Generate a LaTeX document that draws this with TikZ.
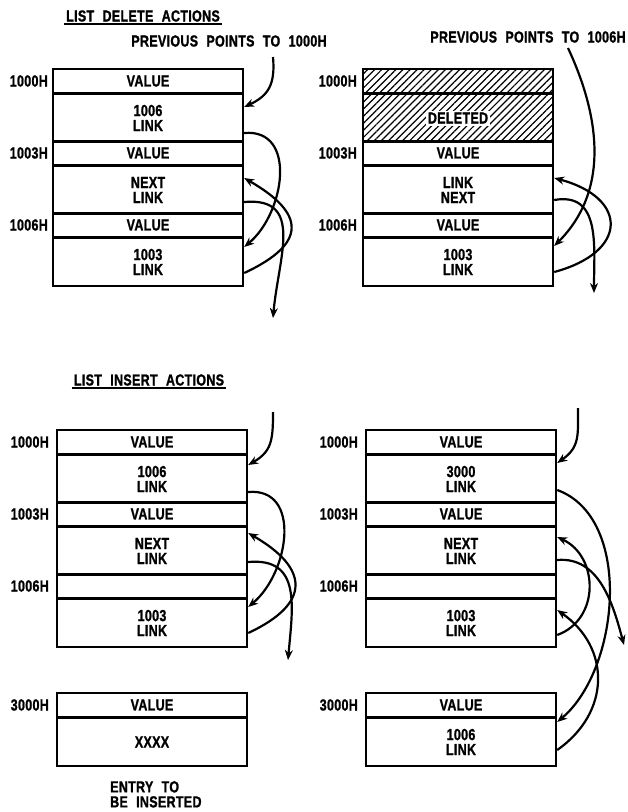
\documentclass[tikz,border=0pt]{standalone}
\usepackage{fontspec}
\setmainfont{Liberation Sans}[FakeStretch=0.78, WordSpace=2.2, LetterSpace=2, BoldFeatures={FakeBold=1.2}]
\usetikzlibrary{arrows.meta, patterns.meta}

\begin{document}
\begin{tikzpicture}[
  x=1pt, y=-1pt,
  font=\bfseries\fontsize{16}{15}\selectfont,
  >={Stealth[length=10pt,width=8pt]},
  cell/.style={draw=black, line width=2.4pt, minimum width=190pt, inner sep=0pt, align=center},
  valrow/.style={cell, minimum height=24pt},
  linkrow/.style={cell, minimum height=48pt},
  addr/.style={anchor=east, inner sep=0pt},
  hatch/.style={pattern={Lines[angle=45,distance=5pt,line width=1.2pt]}},
  heading/.style={inner sep=2pt},
  ptr/.style={->, line width=2.2pt}
]
\useasboundingbox (0,0) rectangle (628,812);

% delete, before
\node[heading] (ta) at (143,16) {LIST DELETE ACTIONS};
\draw[line width=1.6pt] (ta.south west) -- (ta.south east);
\node (pa) at (229,41) {PREVIOUS POINTS TO 1000H};
\coordinate (ap) at (273,57);
\coordinate (ao) at (273,318);

\node[valrow]  (av1) at (148,81)  {VALUE};
\node[linkrow] (al1) at (148,118) {1006\\LINK};
\node[valrow]  (av2) at (148,153) {VALUE};
\node[linkrow] (al2) at (148,190) {NEXT\\LINK};
\node[valrow]  (av3) at (148,225) {VALUE};
\node[linkrow] (al3) at (148,262) {1003\\LINK};
\node[addr] (aa1) at (48,81)  {1000H};
\node[addr] (aa2) at (48,153) {1003H};
\node[addr] (aa3) at (48,225) {1006H};

\draw[ptr] (ap) to[out=-85, in=25, looseness=1.2] ([yshift=11pt]al1.east);
\draw[ptr] ([yshift=-15pt]al1.east) to[out=5, in=40, looseness=1.2] ([yshift=15pt]al3.east);
\draw[ptr] ([yshift=-11pt]al3.east) to[out=25, in=-30, looseness=1.9] ([yshift=12pt]al2.east);
\draw[ptr] ([yshift=-12pt]al2.east) to[out=5, in=85, looseness=1.3] (ao);

% delete, after
\node (pb) at (528,37) {PREVIOUS POINTS TO 1006H};
\coordinate (bp) at (568,48);
\coordinate (bo) at (594,293);

\node[valrow, hatch]  (bv1) at (458,81)  {};
\node[linkrow, hatch] (bl1) at (458,118) {};
\node[fill=white, inner sep=2pt] (bdel) at (bl1) {DELETED};
\node[valrow]  (bv2) at (458,153) {VALUE};
\node[linkrow] (bl2) at (458,190) {LINK\\NEXT};
\node[valrow]  (bv3) at (458,225) {VALUE};
\node[linkrow] (bl3) at (458,262) {1003\\LINK};
\node[addr] (ba1) at (357,81)  {1000H};
\node[addr] (ba2) at (357,153) {1003H};
\node[addr] (ba3) at (357,225) {1006H};

\draw[ptr] (bp) to[out=-65, in=45] ([yshift=16pt]bl3.east);
\draw[ptr] ([yshift=-10pt]bl2.east) to[out=10, in=90, looseness=1.2] (bo);
\draw[ptr] ([yshift=-10pt]bl3.east) to[out=15, in=-15, looseness=2.1] ([yshift=12pt]bl2.east);

% insert, before
\node[heading] (tc) at (149,380) {LIST INSERT ACTIONS};
\draw[line width=1.6pt] (tc.south west) -- (tc.south east);
\coordinate (cp) at (273,412);
\coordinate (co) at (288,660);

\node[valrow]  (cv1) at (152,442) {VALUE};
\node[linkrow] (cl1) at (152,479) {1006\\LINK};
\node[valrow]  (cv2) at (152,514) {VALUE};
\node[linkrow] (cl2) at (152,551) {NEXT\\LINK};
\node[valrow]  (cv3) at (152,586) {};
\node[linkrow] (cl3) at (152,623) {1003\\LINK};
\node[addr] (ca1) at (49,442) {1000H};
\node[addr] (ca2) at (49,514) {1003H};
\node[addr] (ca3) at (49,586) {1006H};

\node[valrow]  (cnv) at (152,705) {VALUE};
\node[linkrow] (cnl) at (152,742) {XXXX};
\node[addr] (ca4) at (49,705) {3000H};
\node[anchor=north west, inner sep=0pt, align=left] (cnote) at (110,781) {ENTRY TO\\BE INSERTED};

\draw[ptr] (cp) to[out=-90, in=30, looseness=1.2] ([yshift=14pt]cl1.east);
\draw[ptr] ([yshift=-13pt]cl1.east) to[out=5, in=40, looseness=1.2] ([yshift=16pt]cl3.east);
\draw[ptr] ([yshift=-10pt]cl3.east) to[out=25, in=-30, looseness=1.8] ([yshift=18pt]cl2.east);
\draw[ptr] ([yshift=-11pt]cl2.east) to[out=5, in=85, looseness=1.3] (co);

% insert, after
\coordinate (dp) at (578,408);
\coordinate (dout) at (624,645);

\node[valrow]  (dv1) at (461,442) {VALUE};
\node[linkrow] (dl1) at (461,479) {3000\\LINK};
\node[valrow]  (dv2) at (461,514) {VALUE};
\node[linkrow] (dl2) at (461,551) {NEXT\\LINK};
\node[valrow]  (dv3) at (461,586) {};
\node[linkrow] (dl3) at (461,623) {1003\\LINK};
\node[addr] (da1) at (358,442) {1000H};
\node[addr] (da2) at (358,514) {1003H};
\node[addr] (da3) at (358,586) {1006H};

\node[valrow]  (dnv) at (461,705) {VALUE};
\node[linkrow] (dnl) at (461,742) {1006\\LINK};
\node[addr] (da4) at (358,705) {3000H};

\draw[ptr] (dp) to[out=-90, in=35, looseness=1.2] ([yshift=16pt]dl1.east);
\draw[ptr] ([yshift=-11pt]dl1.east) to[out=-20, in=40, looseness=0.9] ([yshift=20pt]dnl.east);
\draw[ptr] ([yshift=-8pt]dnl.east) to[out=35, in=-35, looseness=1.2] ([yshift=13pt]dl3.east);
\draw[ptr] ([yshift=-12pt]dl3.east) to[out=20, in=-25, looseness=1.2] ([yshift=14pt]dl2.east);
\draw[ptr] ([yshift=-9pt]dl2.east) to[out=5, in=105] (dout);

\end{tikzpicture}
\end{document}
